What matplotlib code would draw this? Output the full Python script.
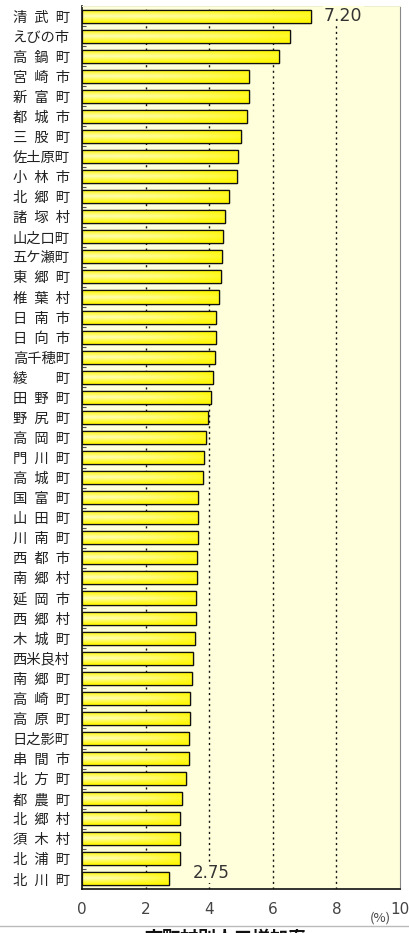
import numpy as np
import matplotlib
matplotlib.use("Agg")
import matplotlib.pyplot as plt
from matplotlib.lines import Line2D

plt.rcParams['font.family'] = ['Noto Sans CJK JP', 'DejaVu Sans']

names = ["清武町", "えびの市", "高鍋町", "宮崎市", "新富町", "都城市", "三股町",
         "佐土原町", "小林市", "北郷町", "諸塚村", "山之口町", "五ケ瀬町", "東郷町",
         "椎葉村", "日南市", "日向市", "高千穂町", "綾町", "田野町", "野尻町",
         "高岡町", "門川町", "高城町", "国富町", "山田町", "川南町", "西都市",
         "南郷村", "延岡市", "西郷村", "木城町", "西米良村", "南郷町", "高崎町",
         "高原町", "日之影町", "串間市", "北方町", "都農町", "北郷村", "須木村",
         "北浦町", "北川町"]
rates = [7.20, 6.54, 6.18, 5.26, 5.25, 5.18, 5.00,
         4.90, 4.86, 4.61, 4.51, 4.44, 4.39, 4.36,
         4.30, 4.22, 4.20, 4.19, 4.11, 4.05, 3.97,
         3.90, 3.83, 3.82, 3.66, 3.66, 3.65, 3.62,
         3.61, 3.57, 3.57, 3.56, 3.50, 3.47, 3.41,
         3.40, 3.36, 3.36, 3.26, 3.14, 3.08, 3.08,
         3.07, 2.75]
x_ticks = [0, 2, 4, 6, 8, 10]


def spaced(name):
    # 3-character names are spread over the width of 4 characters
    en = "\u2002"
    if len(name) == 2:
        return name[0] + en + "\u3000" + en + name[1]
    if len(name) == 3:
        return en.join(name)
    return name


fig = plt.figure(figsize=(4.10, 9.33), dpi=100)
ax = fig.add_axes([82 / 410, 1 - 889 / 933, 318 / 410, 883 / 933])
ax.set_facecolor("#FFFFDC")

y = np.arange(len(names))
bars = ax.barh(y, rates, height=0.65, color="#FFFF10", edgecolor="#111111",
               linewidth=0.9, zorder=2)

# soft highlight inside each bar
hh, ww = 32, 64
v = np.linspace(0, 1, hh)[:, None]
h = np.linspace(0, 1, ww)[None, :]
w = (1 - np.abs(2 * v - 1)) ** 1.2 * (1 - 0.75 * h ** 2)
w = np.clip(w * 0.9, 0, 1)
img = np.zeros((hh, ww, 3))
img[..., 0] = 1.0
img[..., 1] = 1.0 - 0.03 * (1 - w)
img[..., 2] = 0.0 + 0.80 * w
for b in bars:
    x0, y0 = b.get_x(), b.get_y()
    im = ax.imshow(img, extent=(x0, x0 + b.get_width(), y0 + b.get_height(), y0),
                   aspect="auto", zorder=2.1, interpolation="bilinear")
    im.set_clip_path(b)
    edge = plt.Rectangle((x0, y0), b.get_width(), b.get_height(), fill=False,
                         edgecolor="#111111", linewidth=0.9, zorder=2.2)
    ax.add_patch(edge)

ax.set_xlim(0, 10)
ax.set_ylim(len(names) - 0.5, -0.5)

for gx in x_ticks[1:-1]:
    ax.axvline(gx, color="#111111", linestyle=(0, (1.5, 2.5)), linewidth=1.0, zorder=1)

ax.set_xticks(x_ticks)
ax.set_xticklabels([str(t) for t in x_ticks], fontsize=11, color="#444444",
                   family="DejaVu Sans")
ax.tick_params(axis="x", length=0, pad=9)

ax.set_yticks(y)
ax.set_yticklabels([spaced(n) for n in names], fontsize=10.3, color="#222222",
                   ha="left")
ax.tick_params(axis="y", length=0, pad=50)
ax.set_yticks(y[:-1] + 0.5, minor=True)
ax.tick_params(axis="y", which="minor", direction="in", length=3, width=0.8,
               color="#555555")

for s in ["left", "bottom"]:
    ax.spines[s].set_color("#111111")
    ax.spines[s].set_linewidth(1.2)
ax.spines["right"].set_color("#888888")
ax.spines["top"].set_color("#EEEED0")

label_box = dict(facecolor="#FFFFDC", edgecolor="none", pad=1)
ax.annotate(f"{rates[0]:.2f}", (rates[0], y[0]), xytext=(13, 0),
            textcoords="offset pixels", va="center", ha="left",
            fontsize=12.5, color="#333333", family="DejaVu Sans",
            bbox=label_box, zorder=3)
ax.annotate(f"{rates[-1]:.2f}", (rates[-1], y[-1]), xytext=(23, 6),
            textcoords="offset pixels", va="center", ha="left",
            fontsize=12, color="#333333", family="DejaVu Sans",
            bbox=label_box, zorder=3)

fig.text(380 / 410, 1 - 918 / 933, "(%)", fontsize=9.5, color="#444444",
         ha="center", va="center")

fig.add_artist(Line2D([0, 1], [1 - 926 / 933] * 2, color="#BBBBBB", linewidth=1))
fig.text(225 / 410, 1 - 929 / 933, "市町村別人口増加率", fontsize=13,
         fontweight="bold", ha="center", va="top", color="#111111")

fig.savefig("out.png", dpi=100)
